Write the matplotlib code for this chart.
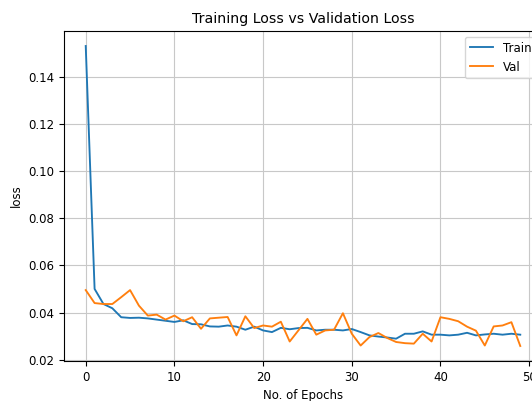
import matplotlib
matplotlib.use("Agg")
import matplotlib.pyplot as plt

epochs = list(range(50))
train_loss = [0.153, 0.050, 0.0436, 0.0418, 0.038, 0.0377, 0.0378, 0.0375, 0.037, 0.0365,
              0.036, 0.0367, 0.0351, 0.035, 0.0341, 0.034, 0.0345, 0.034, 0.0327, 0.034,
              0.0324, 0.0317, 0.0335, 0.0329, 0.0334, 0.0335, 0.0324, 0.0327, 0.0327, 0.0324,
              0.033, 0.0317, 0.0303, 0.0298, 0.0294, 0.0289, 0.031, 0.031, 0.032, 0.0306,
              0.0306, 0.0303, 0.0306, 0.0314, 0.0303, 0.0307, 0.031, 0.0306, 0.031, 0.0306]
val_loss = [0.0495, 0.044, 0.0436, 0.0436, 0.0465, 0.0495, 0.0429, 0.0387, 0.0391, 0.037,
            0.0387, 0.0363, 0.038, 0.0331, 0.0375, 0.0378, 0.0381, 0.0303, 0.0384, 0.0334,
            0.0345, 0.034, 0.0361, 0.0277, 0.0325, 0.0373, 0.0306, 0.0324, 0.0327, 0.0397,
            0.031, 0.026, 0.0296, 0.0313, 0.0292, 0.0275, 0.027, 0.0268, 0.031, 0.0277,
            0.038, 0.0373, 0.0363, 0.034, 0.0323, 0.026, 0.0341, 0.0345, 0.0359, 0.0258]

plt.rcParams["font.size"] = 8.5
plt.rcParams["lines.linewidth"] = 1.35
plt.rcParams["grid.linewidth"] = 0.8

W, H = 532, 401
fig = plt.figure(figsize=(W / 100, H / 100), dpi=100)
ax = fig.add_axes([64 / W, 1 - 361 / H, (542 - 64) / W, (361 - 31) / H])
ax.plot(epochs, train_loss, color="#1f77b4", label="Train")
ax.plot(epochs, val_loss, color="#ff7f0e", label="Val")
ax.set_title("Training Loss vs Validation Loss")
ax.set_xlabel("No. of Epochs")
ax.set_ylabel("loss")
ax.grid(True, color="#c8c8c8")
ax.legend(loc="upper right")
fig.savefig("out.png", dpi=100)
